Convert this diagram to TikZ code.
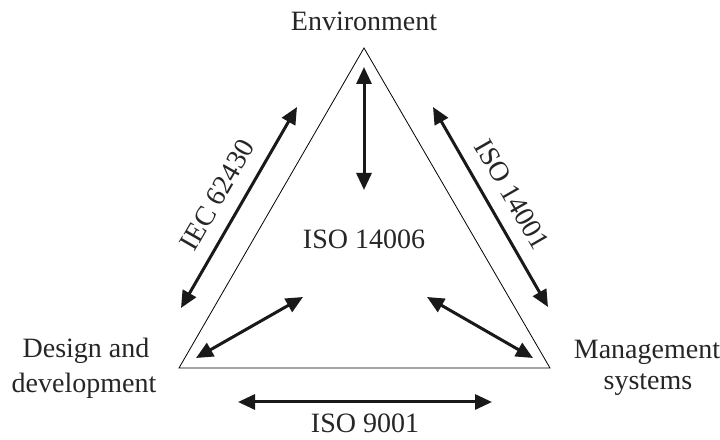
\documentclass[tikz,border=0pt]{standalone}
\usepackage{fontspec}
\setmainfont{Liberation Serif}
\usetikzlibrary{arrows.meta}
\begin{document}
\begin{tikzpicture}[x=1pt,y=1pt,
  lbl/.style={font=\fontsize{28}{34}\selectfont, inner sep=0pt, text=black!85},
  edge/.style={line width=0.8pt, black},
  rel/.style={line width=3pt, black!90, {Triangle[length=17pt,width=15pt]}-{Triangle[length=17pt,width=15pt]}}
]
\useasboundingbox (0,0) rectangle (720,439);
% triangle corners
\coordinate (T) at (364,391);
\coordinate (L) at (179,71);
\coordinate (R) at (550,71);
\draw[edge, line join=miter] (T) -- (L) -- (R) -- cycle;

% arrow end points
\coordinate (v1) at (364,372);
\coordinate (v2) at (364,249);
\coordinate (l1) at (181,131);
\coordinate (l2) at (297,332);
\coordinate (r1) at (433,332);
\coordinate (r2) at (548,132);
\coordinate (b1) at (238,37);
\coordinate (b2) at (492,37);
\coordinate (il1) at (196,81);
\coordinate (il2) at (303,142);
\coordinate (ir1) at (427,142);
\coordinate (ir2) at (533,81);

\draw[rel] (v1) -- (v2);
\draw[rel] (l1) -- node[lbl, midway, sloped, above=14pt] (iec) {IEC 62430} (l2);
\draw[rel] (r1) -- node[lbl, midway, sloped, above=14pt] (iso14001) {ISO 14001} (r2);
\draw[rel] (b1) -- (b2);
\draw[rel] (il1) -- (il2);
\draw[rel] (ir1) -- (ir2);

% labels
\node[lbl, anchor=base] (env) at (364,408) {Environment};
\node[lbl, anchor=base] (center) at (364,190) {ISO 14006};
\node[lbl, anchor=base] (iso9001) at (365,6) {ISO 9001};
\node[lbl, anchor=base] (design1) at (86,81) {Design and};
\node[lbl, anchor=base] (design2) at (84,46) {development};
\node[lbl, anchor=base] (mgmt1) at (647,80) {Management};
\node[lbl, anchor=base] (mgmt2) at (648,49) {systems};
\end{tikzpicture}
\end{document}
